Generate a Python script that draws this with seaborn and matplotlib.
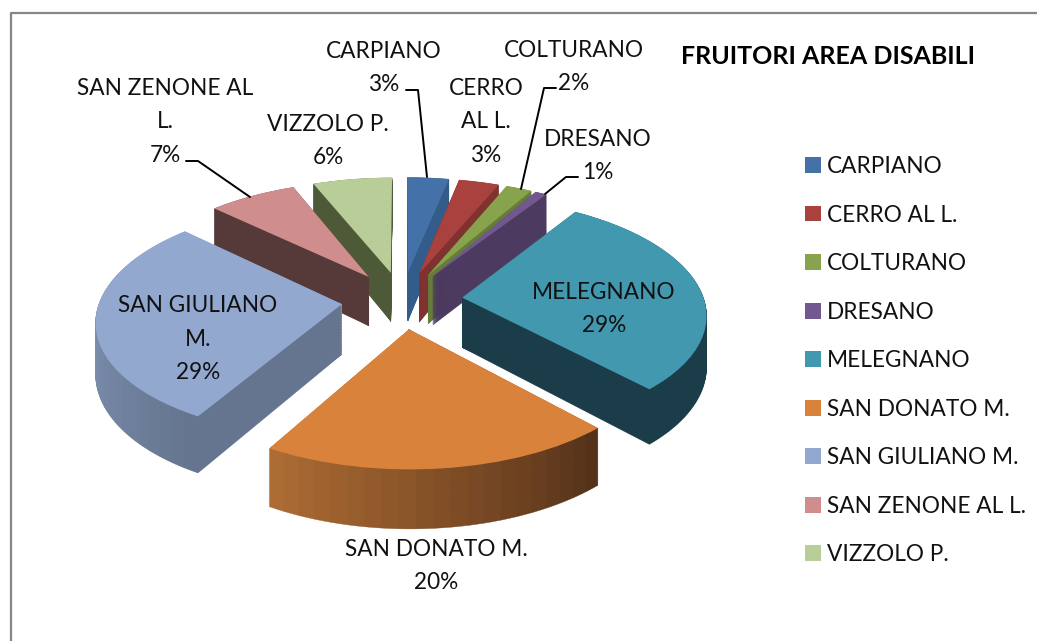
import numpy as np
import matplotlib
matplotlib.use("Agg")
import matplotlib.pyplot as plt
from matplotlib.transforms import Transform
import seaborn as sns

towns = ["CARPIANO", "CERRO AL L.", "COLTURANO", "DRESANO", "MELEGNANO",
         "SAN DONATO M.", "SAN GIULIANO M.", "SAN ZENONE AL L.", "VIZZOLO P."]
values = [3.2, 3.1, 2.0, 0.9, 28.9, 20.2, 28.8, 6.8, 6.1]
label_names = ["CARPIANO", "CERRO\nAL L.", "COLTURANO", "DRESANO", "MELEGNANO",
               "SAN DONATO M.", "SAN GIULIANO\nM.", "SAN ZENONE AL\nL.", "VIZZOLO P."]
top_colors = ["#4472A8", "#A9423F", "#87A34C", "#71588F", "#4198AF",
              "#D9823B", "#92A8CF", "#CF8E8D", "#B8CD97"]
wall_start = ["#335C8A", "#7F3230", "#667C39", "#4C3A60", "#1B3D4A",
              "#55321A", "#65758F", "#553A39", "#4E5A37"]
wall_end = ["#335C8A", "#7F3230", "#667C39", "#4C3A60", "#1B3D4A",
            "#AD6C33", "#93ABD0", "#553A39", "#4E5A37"]

# where the labels and leader lines sit, in picture pixels
label_xy = [(384, 68), (486, 122), (574, 67), (598, 156), (604, 309),
            (436, 566), (198, 339), (165, 122), (328, 141)]
leaders = [([406, 418, 427], [90, 90, 177]),
           ([556, 544, 521], [88, 88, 189]),
           ([578, 566, 545], [177, 177, 194]),
           ([186, 198, 250], [161, 161, 197])]

# perspective of the tilted pie
CX, CY = 402, 300
RX, RY = 242, 114
TILT = 0.128
DEPTH = 50
EXPLODE = 0.25


class PiePerspective(Transform):
    input_dims = 2
    output_dims = 2

    def __init__(self, drop=0):
        super().__init__()
        self.drop = drop

    def transform_non_affine(self, xy):
        xy = np.asarray(xy, dtype=float)
        s = 1 / (1 + TILT * xy[:, 1])
        return np.column_stack([CX + RX * xy[:, 0] * s,
                                CY - RY * xy[:, 1] * s + self.drop * s])


sns.set_theme(style="white", font="Lato")
plt.rcParams["text.color"] = "#111111"

fig = plt.figure(figsize=(10.37, 6.41), dpi=100)
ax = fig.add_axes([0, 0, 1, 1])

edges = np.cumsum([0] + values) / 100 * 360

# side walls, far slices first, stacked up from the bottom of the pie
for i in [0, 1, 2, 3, 8, 7, 6, 4, 5]:
    mid = np.radians((edges[i] + edges[i + 1]) / 2)
    centre = (EXPLODE * np.sin(mid), EXPLODE * np.cos(mid))
    n = int(values[i]) + 1
    shades = sns.blend_palette([wall_start[i], wall_end[i]], n)
    for drop in np.arange(DEPTH, 0, -0.75):
        wedges, _ = ax.pie([values[i] / 100 / n] * n, normalize=False, colors=shades,
                           startangle=90 - edges[i], counterclock=False,
                           center=centre, labeldistance=None)
        for w in wedges:
            w.set_transform(PiePerspective(drop) + ax.transData)
            w.set_edgecolor(w.get_facecolor())
            w.set_linewidth(0.3)

# top faces
tops, _ = ax.pie(values, explode=[EXPLODE] * len(values), colors=sns.color_palette(top_colors),
                 startangle=90, counterclock=False, labeldistance=None,
                 wedgeprops={"linewidth": 0, "edgecolor": "none"})
for w in tops:
    w.set_transform(PiePerspective() + ax.transData)

ax.set_aspect("auto")
ax.set_xlim(0, 1037)
ax.set_ylim(641, 0)
ax.axis("off")

# chart frame, runs off the right and bottom of the picture
ax.plot([11, 11, 1037], [641, 13, 13], color="#868686", lw=1.6, clip_on=False)

for xs, ys in leaders:
    ax.plot(xs, ys, color="black", lw=1.4)

for name, val, (x, y) in zip(label_names, values, label_xy):
    ax.text(x, y, f"{name}\n{round(val)}%", ha="center", va="center",
            fontsize=16.3, linespacing=1.72)

ax.text(828, 56, "FRUITORI AREA DISABILI", ha="center", va="center",
        fontsize=18, fontweight="bold", color="black")

ax.legend(tops, towns, loc="upper left", bbox_to_anchor=(805 / 1037, 1 - 156 / 641),
          frameon=False, fontsize=16.3, borderpad=0, borderaxespad=0,
          handlelength=0.69, handleheight=0.69, handletextpad=0.27, labelspacing=1.216)

fig.savefig("out.png", dpi=100, facecolor="white")
